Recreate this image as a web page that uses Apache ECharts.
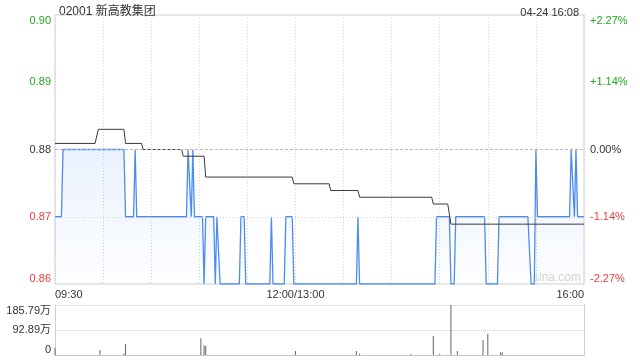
<!DOCTYPE html>
<html>
<head>
<meta charset="utf-8">
<script src="https://cdn.jsdelivr.net/npm/echarts@6/dist/echarts.min.js"></script>
<style>html,body{margin:0;padding:0;background:#fff;}#c{width:640px;height:360px;}</style>
</head>
<body>
<div id="c"></div>
<script>
// ---- data (minutes since 09:30, lunch removed: 0..330) ----
var titleText = '02001 新高教集团';
var timeText = '04-24 16:08';
var prevClose = 0.88;
var xTickLabels = {0: '09:30', 150: '12:00/13:00', 330: '16:00'};

var priceMin = [0,4,5,43,44,49,50,51,82,83,84,85,86,87,92,93,94,99,100,101,102,103,115,116,118,119,134,135,136,143,144,148,149,188,189,190,237,238,246,247,249,250,268,269,276,277,295,297,299,300,301,321,322,323,324,325,326,330];
var priceVal = [0.87,0.87,0.88,0.88,0.87,0.87,0.88,0.87,0.87,0.88,0.88,0.87,0.88,0.87,0.87,0.86,0.87,0.87,0.86,0.87,0.87,0.86,0.86,0.87,0.87,0.86,0.86,0.87,0.86,0.86,0.87,0.87,0.86,0.86,0.87,0.86,0.86,0.87,0.87,0.86,0.86,0.87,0.87,0.86,0.86,0.87,0.87,0.86,0.86,0.88,0.87,0.87,0.88,0.88,0.87,0.88,0.87,0.87];

var avgMin = [0,25,27,43,44,54,55,79,80,93,94,148,149,171,172,189,190,235,236,245,247,330];
var avgVal = [0.8809,0.8809,0.8830,0.8830,0.8809,0.8809,0.8800,0.8800,0.8790,0.8790,0.8759,0.8759,0.8749,0.8749,0.8739,0.8739,0.8729,0.8729,0.8719,0.8719,0.8689,0.8689];

var volMin = [0,28,43,44,91,93,94,150,188,190,222,236,240,247,251,267,270,278,279];
var volVal = [27,18.6,6,41,62,36,33,15,15,5,4,71,5,185.79,15,55.7,79,10,10]; // 万
var volTickLabels = ['0','92.89万','185.79万'];
var volMax = 185.79;

// ---- build ----
function zip(a, b){ return a.map(function(v, i){ return [v, b[i]]; }); }
var FONT = "Arial, 'Liberation Sans', 'Noto Sans CJK SC', sans-serif";
var GREEN = '#22a722', RED = '#f23a3a', DARK = '#333';

var chart = echarts.init(document.getElementById('c'), null, {renderer: 'canvas'});
chart.setOption({
  animation: false,
  textStyle: {fontFamily: FONT},
  title: [
    {text: titleText, left: 54, top: 1, textStyle: {fontSize: 12, fontWeight: 'normal', color: DARK, fontFamily: FONT}},
    {text: timeText, right: 56, top: 2, textStyle: {fontSize: 11, fontWeight: 'normal', color: DARK, fontFamily: FONT}}
  ],
  graphic: [
    {type: 'text', left: 533, top: 272, style: {text: 'sina.com', fill: '#d6d6d6', fontSize: 12, fontFamily: FONT}, z: 1}
  ],
  grid: [
    {left: 55, right: 56, top: 15, height: 269, show: true, borderColor: '#cfcfcf', borderWidth: 1},
    {left: 55, right: 56, top: 305, height: 50, show: false}
  ],
  xAxis: [
    {type: 'value', gridIndex: 0, min: 0, max: 330, interval: 30,
     axisLine: {show: false}, axisTick: {show: false},
     splitLine: {show: true, lineStyle: {color: '#d6d6d6', type: [1, 2]}},
     axisLabel: {show: true, fontSize: 11, color: DARK, margin: 5,
       alignMinLabel: 'left', alignMaxLabel: 'right',
       formatter: function(v){ return xTickLabels[v] || ''; }}},
    {type: 'value', gridIndex: 1, min: 0, max: 330, interval: 30,
     axisLine: {show: true, lineStyle: {color: '#bbb', type: [1, 1]}}, axisTick: {show: false},
     splitLine: {show: false}, axisLabel: {show: false}}
  ],
  yAxis: [
    {type: 'value', gridIndex: 0, min: 0.86, max: 0.90, interval: 0.01, position: 'left',
     axisLine: {show: false}, axisTick: {show: false}, splitLine: {show: false},
     axisLabel: {fontSize: 11, margin: 4, verticalAlignMinLabel: 'bottom', verticalAlignMaxLabel: 'top',
       formatter: function(v){
         var s = v.toFixed(2);
         var k = Math.abs(v - prevClose) < 1e-6 ? 'z' : (v > prevClose ? 'g' : 'r');
         return '{' + k + '|' + s + '}';
       },
       rich: {g: {color: GREEN, fontSize: 11}, r: {color: RED, fontSize: 11}, z: {color: DARK, fontSize: 11}}}},
    {type: 'value', gridIndex: 0, min: 0.86, max: 0.90, interval: 0.01, position: 'right',
     axisLine: {show: false}, axisTick: {show: false}, splitLine: {show: false},
     axisLabel: {fontSize: 11, margin: 6, verticalAlignMinLabel: 'bottom', verticalAlignMaxLabel: 'top',
       formatter: function(v){
         var p = (v - prevClose) / prevClose * 100;
         if (Math.abs(p) < 1e-6) return '{z|0.00%}';
         return p > 0 ? '{g|+' + p.toFixed(2) + '%}' : '{r|' + p.toFixed(2) + '%}';
       },
       rich: {g: {color: GREEN, fontSize: 11}, r: {color: RED, fontSize: 11}, z: {color: DARK, fontSize: 11}}}},
    {type: 'value', gridIndex: 1, min: 0, max: volMax, interval: volMax / 2, position: 'left',
     axisLine: {show: true, lineStyle: {color: '#cfcfcf'}}, axisTick: {show: false},
     splitLine: {show: true, lineStyle: {color: '#c8c8c8', type: [1, 1]}},
     axisLabel: {fontSize: 11, color: DARK, margin: 4, verticalAlignMinLabel: 'bottom', verticalAlignMaxLabel: 'top',
       formatter: function(v){ return volTickLabels[Math.round(v / (volMax / 2))]; }}},
    {type: 'value', gridIndex: 1, min: 0, max: volMax, interval: volMax / 2, position: 'right',
     axisLine: {show: true, lineStyle: {color: '#cfcfcf'}}, axisTick: {show: false},
     splitLine: {show: false}, axisLabel: {show: false}}
  ],
  series: [
    {type: 'line', name: 'price', xAxisIndex: 0, yAxisIndex: 0, data: zip(priceMin, priceVal),
     symbol: 'none', lineStyle: {color: '#4b8cf2', width: 1.3},
     areaStyle: {origin: 'start', color: new echarts.graphic.LinearGradient(0, 0, 0, 1, [
       {offset: 0, color: 'rgba(75,140,242,0.16)'}, {offset: 1, color: 'rgba(75,140,242,0.02)'}])},
     markLine: {silent: true, symbol: 'none', label: {show: false},
       data: [
         {yAxis: 0.88, lineStyle: {color: '#b8b8b8', type: [3, 2], width: 1}},
         {yAxis: 0.87, lineStyle: {color: '#cfcfcf', type: [1, 2], width: 1}}
       ]}},
    {type: 'line', name: 'avg', xAxisIndex: 0, yAxisIndex: 0, data: zip(avgMin, avgVal),
     symbol: 'none', lineStyle: {color: '#3a3a3a', width: 1}},
    {type: 'bar', name: 'vol', xAxisIndex: 1, yAxisIndex: 2, data: zip(volMin, volVal),
     barWidth: 1, itemStyle: {color: '#666'}}
  ]
});
</script>
</body>
</html>
